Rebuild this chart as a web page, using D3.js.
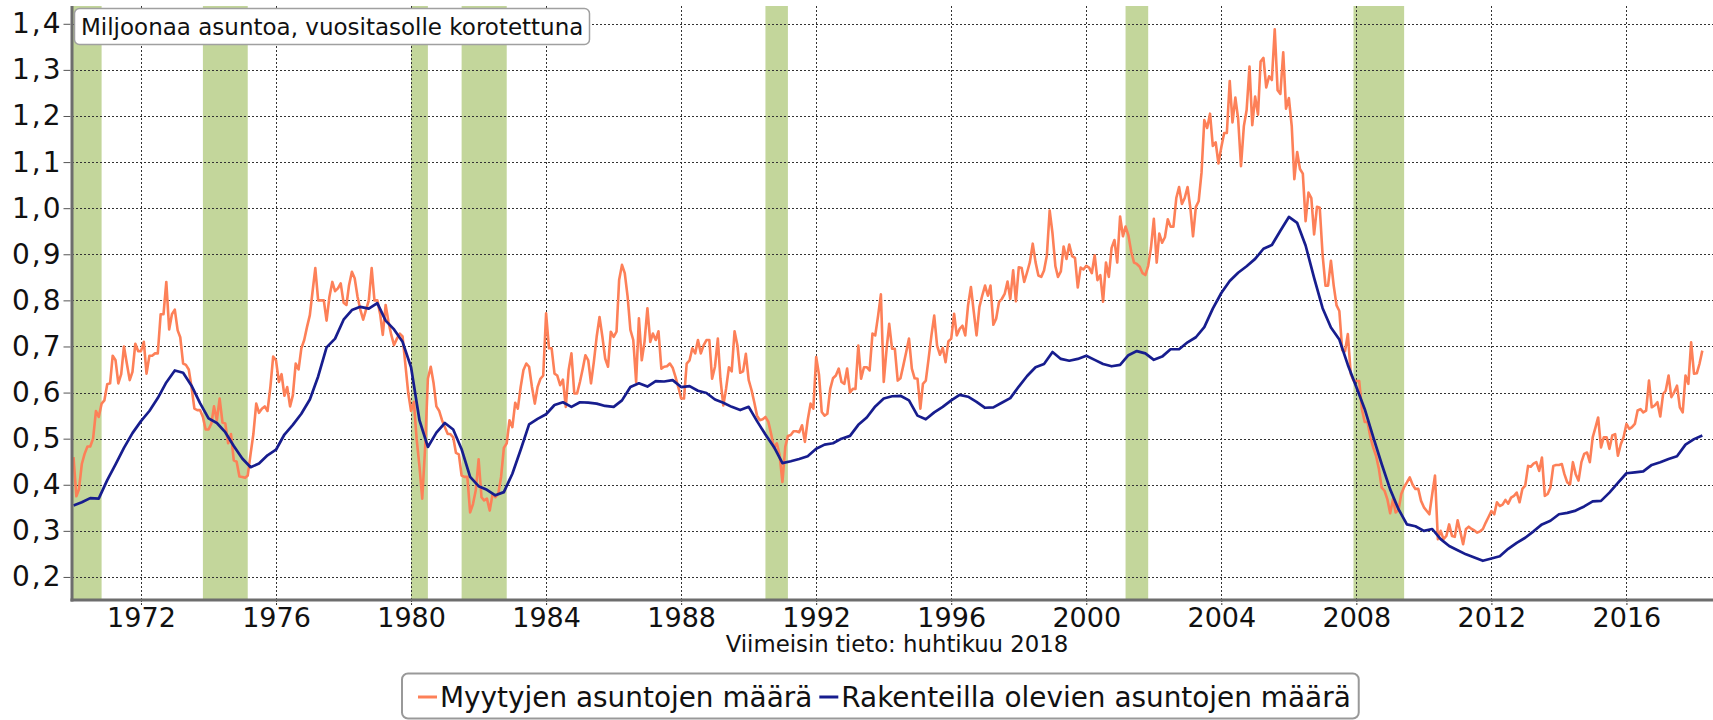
<!DOCTYPE html>
<html>
<head>
<meta charset="utf-8">
<script src="https://cdn.jsdelivr.net/npm/d3@7"></script>
<style>
  body { margin: 0; background: #fff; }
  svg text { font-family: "DejaVu Sans", Verdana, sans-serif; fill: #111; }
</style>
</head>
<body>
<script>
// monthly series starts here, quarterly series too
const firstYear = 1970;

const yTicks = [0.2, 0.3, 0.4, 0.5, 0.6, 0.7, 0.8, 0.9, 1.0, 1.1, 1.2, 1.3, 1.4];
const xTickYears = [1972, 1976, 1980, 1984, 1988, 1992, 1996, 2000, 2004, 2008, 2012, 2016];

// recession periods [start, end] as "YYYY-MM"
const recessions = [
    ["1969-12", "1970-11"], ["1973-11", "1975-03"], ["1980-01", "1980-07"],
    ["1981-07", "1982-11"], ["1990-07", "1991-03"], ["2001-03", "2001-11"],
    ["2007-12", "2009-06"]
];

const seriesNames = ["Myytyjen asuntojen määrä", "Rakenteilla olevien asuntojen määrä"];
const seriesColors = ["#fd8058", "#171d8e"];

// sold homes, millions, monthly from Jan 1970
const sales = [
    0.46,0.375,0.39,0.445,0.467,0.483,0.483,0.50,0.56,0.547,0.576,0.583,
    0.618,0.62,0.68,0.67,0.62,0.64,0.70,0.663,0.627,0.645,0.706,0.69,
    0.69,0.71,0.641,0.68,0.68,0.685,0.685,0.77,0.77,0.84,0.737,0.77,
    0.78,0.735,0.72,0.663,0.66,0.65,0.612,0.565,0.562,0.562,0.547,0.52,
    0.52,0.533,0.57,0.54,0.587,0.535,0.533,0.49,0.51,0.453,0.45,0.418,
    0.417,0.415,0.42,0.467,0.51,0.576,0.556,0.565,0.57,0.56,0.612,0.678,
    0.67,0.623,0.64,0.593,0.612,0.57,0.594,0.663,0.65,0.696,0.714,0.742,
    0.768,0.822,0.87,0.80,0.80,0.80,0.756,0.808,0.84,0.82,0.826,0.837,
    0.795,0.79,0.833,0.862,0.848,0.808,0.78,0.758,0.78,0.80,0.87,0.80,
    0.80,0.77,0.725,0.79,0.754,0.725,0.703,0.717,0.728,0.722,0.66,0.60,
    0.56,0.58,0.50,0.44,0.37,0.48,0.63,0.656,0.62,0.57,0.56,0.54,
    0.525,0.51,0.51,0.503,0.469,0.466,0.42,0.417,0.417,0.34,0.358,0.388,
    0.455,0.373,0.366,0.37,0.344,0.38,0.373,0.38,0.417,0.48,0.49,0.54,
    0.525,0.578,0.565,0.612,0.649,0.663,0.656,0.612,0.576,0.612,0.63,0.637,
    0.772,0.696,0.696,0.641,0.637,0.616,0.628,0.569,0.649,0.685,0.598,0.598,
    0.623,0.652,0.681,0.67,0.62,0.667,0.721,0.764,0.721,0.674,0.656,0.732,
    0.721,0.732,0.844,0.877,0.859,0.808,0.736,0.714,0.623,0.761,0.67,0.71,
    0.783,0.71,0.728,0.714,0.733,0.652,0.656,0.657,0.663,0.654,0.634,0.612,
    0.587,0.587,0.663,0.67,0.696,0.685,0.714,0.685,0.703,0.714,0.714,0.63,
    0.656,0.717,0.63,0.572,0.608,0.655,0.646,0.733,0.702,0.643,0.646,0.684,
    0.627,0.605,0.58,0.55,0.54,0.542,0.547,0.537,0.51,0.48,0.49,0.465,
    0.406,0.483,0.506,0.508,0.516,0.516,0.514,0.529,0.493,0.54,0.576,0.565,
    0.677,0.638,0.558,0.55,0.554,0.608,0.631,0.637,0.652,0.623,0.619,0.652,
    0.60,0.608,0.608,0.702,0.63,0.655,0.655,0.648,0.728,0.724,0.767,0.813,
    0.623,0.695,0.749,0.695,0.695,0.626,0.631,0.659,0.688,0.717,0.652,0.631,
    0.63,0.565,0.619,0.626,0.673,0.724,0.767,0.702,0.682,0.697,0.666,0.711,
    0.717,0.771,0.724,0.738,0.745,0.724,0.789,0.829,0.775,0.724,0.786,0.81,
    0.832,0.81,0.832,0.747,0.76,0.796,0.803,0.814,0.841,0.803,0.865,0.798,
    0.872,0.87,0.84,0.861,0.883,0.923,0.883,0.854,0.851,0.865,0.898,0.995,
    0.945,0.874,0.851,0.863,0.917,0.89,0.921,0.896,0.892,0.828,0.871,0.867,
    0.875,0.871,0.859,0.898,0.844,0.855,0.797,0.882,0.851,0.914,0.931,0.882,
    0.982,0.939,0.96,0.941,0.906,0.882,0.879,0.873,0.859,0.855,0.875,0.914,
    0.977,0.882,0.945,0.925,0.937,0.976,0.96,0.96,1.022,1.046,1.009,1.022,
    1.046,0.999,0.939,1.003,1.015,1.077,1.191,1.174,1.205,1.135,1.143,1.097,
    1.132,1.163,1.163,1.276,1.186,1.24,1.194,1.091,1.178,1.213,1.307,1.18,
    1.242,1.203,1.318,1.326,1.262,1.286,1.278,1.388,1.256,1.248,1.338,1.216,
    1.239,1.178,1.063,1.122,1.085,1.075,0.972,1.034,1.022,0.943,1.003,1.001,
    0.898,0.832,0.832,0.886,0.832,0.789,0.777,0.692,0.69,0.727,0.641,0.626,
    0.625,0.625,0.564,0.536,0.536,0.503,0.481,0.463,0.434,0.394,0.387,0.369,
    0.338,0.369,0.34,0.345,0.38,0.395,0.405,0.416,0.40,0.391,0.391,0.365,
    0.351,0.343,0.336,0.38,0.42,0.282,0.30,0.282,0.289,0.314,0.289,0.287,
    0.323,0.296,0.271,0.304,0.309,0.304,0.301,0.296,0.299,0.304,0.318,0.33,
    0.343,0.336,0.362,0.354,0.357,0.367,0.359,0.372,0.376,0.383,0.362,0.391,
    0.398,0.441,0.439,0.446,0.449,0.43,0.459,0.376,0.38,0.394,0.441,0.443,
    0.443,0.445,0.423,0.405,0.401,0.449,0.423,0.409,0.449,0.467,0.47,0.449,
    0.503,0.525,0.546,0.481,0.503,0.503,0.478,0.507,0.51,0.463,0.488,0.503,
    0.532,0.521,0.525,0.532,0.561,0.564,0.557,0.561,0.626,0.568,0.572,0.579,
    0.548,0.597,0.604,0.637,0.59,0.601,0.615,0.568,0.557,0.637,0.619,0.709,
    0.641,0.642,0.662,0.691
];

// homes under construction, millions, quarterly (Jan, Apr, Jul, Oct) from 1970
const underConstruction = [
    0.355,0.362,0.371,0.37,   0.41,0.444,0.48,0.512,    0.538,0.56,0.588,0.622,
    0.648,0.643,0.615,0.577,  0.544,0.534,0.514,0.484,  0.457,0.438,0.446,0.464,
    0.476,0.509,0.53,0.554,   0.585,0.635,0.698,0.717,  0.758,0.779,0.786,0.782,
    0.794,0.756,0.737,0.71,   0.655,0.54,0.482,0.513,   0.534,0.52,0.477,0.417,
    0.397,0.389,0.377,0.384,  0.424,0.476,0.531,0.543,  0.553,0.573,0.579,0.569,
    0.579,0.578,0.576,0.571,  0.569,0.583,0.612,0.62,   0.613,0.625,0.624,0.627,
    0.612,0.614,0.604,0.599,  0.585,0.578,0.569,0.562,  0.569,0.538,0.509,0.482,
    0.447,0.451,0.456,0.462,  0.478,0.487,0.49,0.50,    0.506,0.53,0.546,0.57,
    0.587,0.592,0.593,0.583,  0.55,0.542,0.557,0.569,   0.583,0.595,0.591,0.58,
    0.567,0.568,0.578,0.588,  0.613,0.636,0.655,0.662,  0.688,0.673,0.669,0.673,
    0.68,0.671,0.662,0.657,   0.66,0.681,0.69,0.685,    0.671,0.678,0.694,0.694,
    0.709,0.72,0.742,0.782,   0.816,0.842,0.86,0.874,   0.89,0.912,0.92,0.951,
    0.981,0.968,0.919,0.849,  0.783,0.741,0.715,0.66,   0.612,0.564,0.504,0.445,
    0.39,0.347,0.314,0.31,    0.30,0.304,0.282,0.267,   0.258,0.249,0.242,0.235,
    0.24,0.245,0.261,0.274,   0.285,0.299,0.314,0.322,  0.336,0.339,0.344,0.353,
    0.364,0.365,0.383,0.404,  0.425,0.427,0.429,0.443,  0.449,0.456,0.462,0.487,
    0.499,0.507
];

const titleText = "Miljoonaa asuntoa, vuositasolle korotettuna";
const noteText = "Viimeisin tieto: huhtikuu 2018";

const width = 1713, height = 720;
const plot = { left: 72, right: 1713, top: 6, bottom: 600 };

let svg = d3.select("body").append("svg")
    .attr("width", width)
    .attr("height", height)
    .attr("viewBox", [0, 0, width, height]);

let x = d3.scaleTime()
    .domain([new Date(1970, 0, 1), new Date(2018, 0, 1)])
    .range([73.5, 1694]);

let y = d3.scaleLinear()
    .domain([0.15, 1.4386])
    .range([plot.bottom, plot.top]);

let fi = d3.formatLocale({ decimal: ",", thousands: " ", grouping: [3], currency: ["", " €"] });
let fmt = fi.format(".1f");

svg.append("defs").append("clipPath")
    .attr("id", "plot-clip")
    .append("rect")
    .attr("x", plot.left)
    .attr("y", plot.top)
    .attr("width", plot.right - plot.left)
    .attr("height", plot.bottom - plot.top);

let parseMonth = d3.timeParse("%Y-%m");

// recession bands
svg.append("g")
    .attr("clip-path", "url(#plot-clip)")
    .selectAll("rect")
    .data(recessions)
    .join("rect")
    .attr("x", d => x(parseMonth(d[0])))
    .attr("width", d => x(parseMonth(d[1])) - x(parseMonth(d[0])))
    .attr("y", plot.top)
    .attr("height", plot.bottom - plot.top)
    .attr("fill", "#c3d69b");

// grid
let grid = svg.append("g")
    .attr("stroke", "#333")
    .attr("stroke-width", 1)
    .attr("stroke-dasharray", "2,2");

grid.selectAll(".hgrid")
    .data(yTicks)
    .join("line")
    .attr("class", "hgrid")
    .attr("x1", plot.left)
    .attr("x2", plot.right)
    .attr("y1", d => Math.round(y(d)) + 0.5)
    .attr("y2", d => Math.round(y(d)) + 0.5);

grid.selectAll(".vgrid")
    .data(xTickYears)
    .join("line")
    .attr("class", "vgrid")
    .attr("x1", d => Math.round(x(new Date(d, 0, 1))) + 0.5)
    .attr("x2", d => Math.round(x(new Date(d, 0, 1))) + 0.5)
    .attr("y1", plot.top)
    .attr("y2", plot.bottom);

// lines
let salesPoints = sales.map((v, i) => ({ date: new Date(firstYear, i, 1), value: v }));
let constrPoints = underConstruction.map((v, i) => ({ date: new Date(firstYear, i * 3, 1), value: v }));

let line = d3.line()
    .x(d => x(d.date))
    .y(d => y(d.value));

let lines = svg.append("g").attr("clip-path", "url(#plot-clip)");

lines.append("path")
    .datum(salesPoints)
    .attr("fill", "none")
    .attr("stroke", seriesColors[0])
    .attr("stroke-width", 2.6)
    .attr("stroke-linejoin", "round")
    .attr("d", line);

lines.append("path")
    .datum(constrPoints)
    .attr("fill", "none")
    .attr("stroke", seriesColors[1])
    .attr("stroke-width", 2.7)
    .attr("stroke-linejoin", "round")
    .attr("d", line);

// axes
let xAxis = d3.axisBottom(x)
    .tickValues(xTickYears.map(yr => new Date(yr, 0, 1)))
    .tickFormat(d3.timeFormat("%Y"))
    .tickSize(6)
    .tickPadding(2);

let gx = svg.append("g")
    .attr("transform", `translate(0,${plot.bottom})`)
    .call(xAxis);
gx.select(".domain").remove();
gx.selectAll(".tick line").attr("stroke", "#333").attr("stroke-dasharray", "2,1");
gx.selectAll(".tick text")
    .style("font-size", "27px")
    .style("font-family", "DejaVu Sans, Verdana, sans-serif");

let yAxis = d3.axisLeft(y)
    .tickValues(yTicks)
    .tickFormat(fmt)
    .tickSize(7);

let gy = svg.append("g")
    .attr("transform", `translate(${plot.left - 1.5},0)`)
    .call(yAxis);
gy.select(".domain").remove();
gy.selectAll(".tick line").attr("stroke", "#555");
gy.selectAll(".tick text")
    .attr("x", -8)
    .style("font-size", "28px")
    .style("letter-spacing", "2px")
    .style("font-family", "DejaVu Sans, Verdana, sans-serif");

// axis lines
svg.append("line")
    .attr("x1", plot.left).attr("x2", plot.left)
    .attr("y1", plot.top).attr("y2", plot.bottom + 1.5)
    .attr("stroke", "#6d6d6d").attr("stroke-width", 3);
svg.append("line")
    .attr("x1", plot.left - 1.5).attr("x2", plot.right)
    .attr("y1", plot.bottom).attr("y2", plot.bottom)
    .attr("stroke", "#6d6d6d").attr("stroke-width", 3);

// title label
let title = svg.append("g");
title.append("rect")
    .attr("x", 74.5).attr("y", 8.5)
    .attr("width", 515).attr("height", 36)
    .attr("rx", 5)
    .attr("fill", "#fff")
    .attr("stroke", "#a0a0a0")
    .attr("stroke-width", 1.5);
title.append("text")
    .attr("x", 81).attr("y", 35)
    .style("font-size", "23px")
    .text(titleText);

// note under the axis
svg.append("text")
    .attr("x", 897).attr("y", 652)
    .attr("text-anchor", "middle")
    .style("font-size", "22.8px")
    .text(noteText);

// legend
let legend = svg.append("g");
let legendBox = legend.append("rect")
    .attr("y", 673.5).attr("height", 45)
    .attr("rx", 6)
    .attr("fill", "#fff")
    .attr("stroke", "#999")
    .attr("stroke-width", 2);

let lx = 418;
seriesNames.forEach((name, i) => {
    legend.append("line")
        .attr("x1", lx).attr("x2", lx + 19)
        .attr("y1", 697).attr("y2", 697)
        .attr("stroke", seriesColors[i])
        .attr("stroke-width", 3);
    let t = legend.append("text")
        .attr("x", lx + 22).attr("y", 707)
        .style("font-size", "27.9px")
        .text(name);
    lx = lx + 22 + t.node().getComputedTextLength() + 7;
});
legendBox.attr("x", 402).attr("width", lx - 402 + 1);
</script>
</body>
</html>
